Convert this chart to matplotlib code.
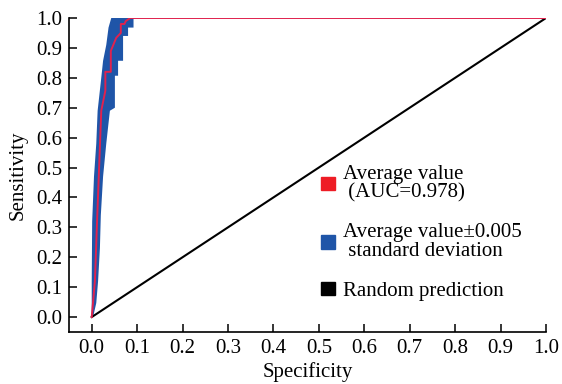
import matplotlib.pyplot as plt
from matplotlib.patches import Patch

plt.rcParams['font.family'] = ['Liberation Serif', 'DejaVu Serif']

# mean ROC curve (x = 1 - specificity axis, y = sensitivity)
mean_x = [0.0, 0.007, 0.012, 0.021, 0.030, 0.030, 0.042, 0.042, 0.054, 0.064, 0.064, 0.072, 0.075, 0.085, 1.0]
mean_y = [0.0, 0.12, 0.33, 0.69, 0.757, 0.82, 0.82, 0.89, 0.934, 0.95, 0.98, 0.98, 0.99, 1.0, 1.0]

# band (+/- std): left and right outlines, bottom to top
left_x = [0.0, 0.0, 0.001, 0.005, 0.010, 0.013, 0.021, 0.025, 0.032, 0.037, 0.043]
left_y = [0.0, 0.12, 0.32, 0.47, 0.58, 0.69, 0.80, 0.857, 0.91, 0.968, 1.0]
right_x = [0.003, 0.010, 0.014, 0.018, 0.020, 0.025, 0.032, 0.040, 0.051, 0.051, 0.058,
           0.058, 0.069, 0.069, 0.080, 0.080, 0.092, 0.092]
right_y = [0.0, 0.047, 0.12, 0.23, 0.34, 0.47, 0.58, 0.69, 0.70, 0.807, 0.807,
           0.857, 0.857, 0.94, 0.94, 0.968, 0.968, 1.0]

ticks = [0.0, 0.1, 0.2, 0.3, 0.4, 0.5, 0.6, 0.7, 0.8, 0.9, 1.0]
labels = ["Average value\n (AUC=0.978)", "Average value\u00b10.005\n standard deviation", "Random prediction"]

fig = plt.figure(figsize=(5.62, 3.84), dpi=100)
ax = fig.add_axes([0.1228, 0.1354, 0.8487, 0.8177])

ax.fill(left_x + right_x[::-1], left_y + right_y[::-1], color='#1f55a8', linewidth=0)
ax.plot([0, 1], [0, 1], color='black', linewidth=1.5)
ax.plot(mean_x, mean_y, color='#e0224e', linewidth=1.4)

ax.set_xlim(-0.05, 1.0)
ax.set_ylim(-0.05, 1.0)
ax.set_xticks(ticks)
ax.set_yticks(ticks)
ax.set_xticklabels([f"{t:.1f}" for t in ticks])
ax.set_yticklabels([f"{t:.1f}" for t in ticks])
ax.tick_params(direction='in', length=6, width=1.1, labelsize=15, pad=5)
for s in ['top', 'right']:
    ax.spines[s].set_visible(False)
for s in ['left', 'bottom']:
    ax.spines[s].set_linewidth(1.2)

ax.set_xlabel("Specificity", fontsize=15, labelpad=3)
ax.set_ylabel("Sensitivity", fontsize=15, labelpad=6)

handles = [Patch(color='#ee1c25'), Patch(color='#1f55a8'), Patch(color='black')]
leg = ax.legend(handles, labels, loc='upper left', bbox_to_anchor=(0.507, 0.565), frameon=False,
                fontsize=15, handlelength=0.65, handleheight=0.65, handletextpad=0.4,
                labelspacing=1.0, borderpad=0)
for t in leg.get_texts():
    t.set_linespacing(0.95)

fig.savefig("out.png", dpi=100)
